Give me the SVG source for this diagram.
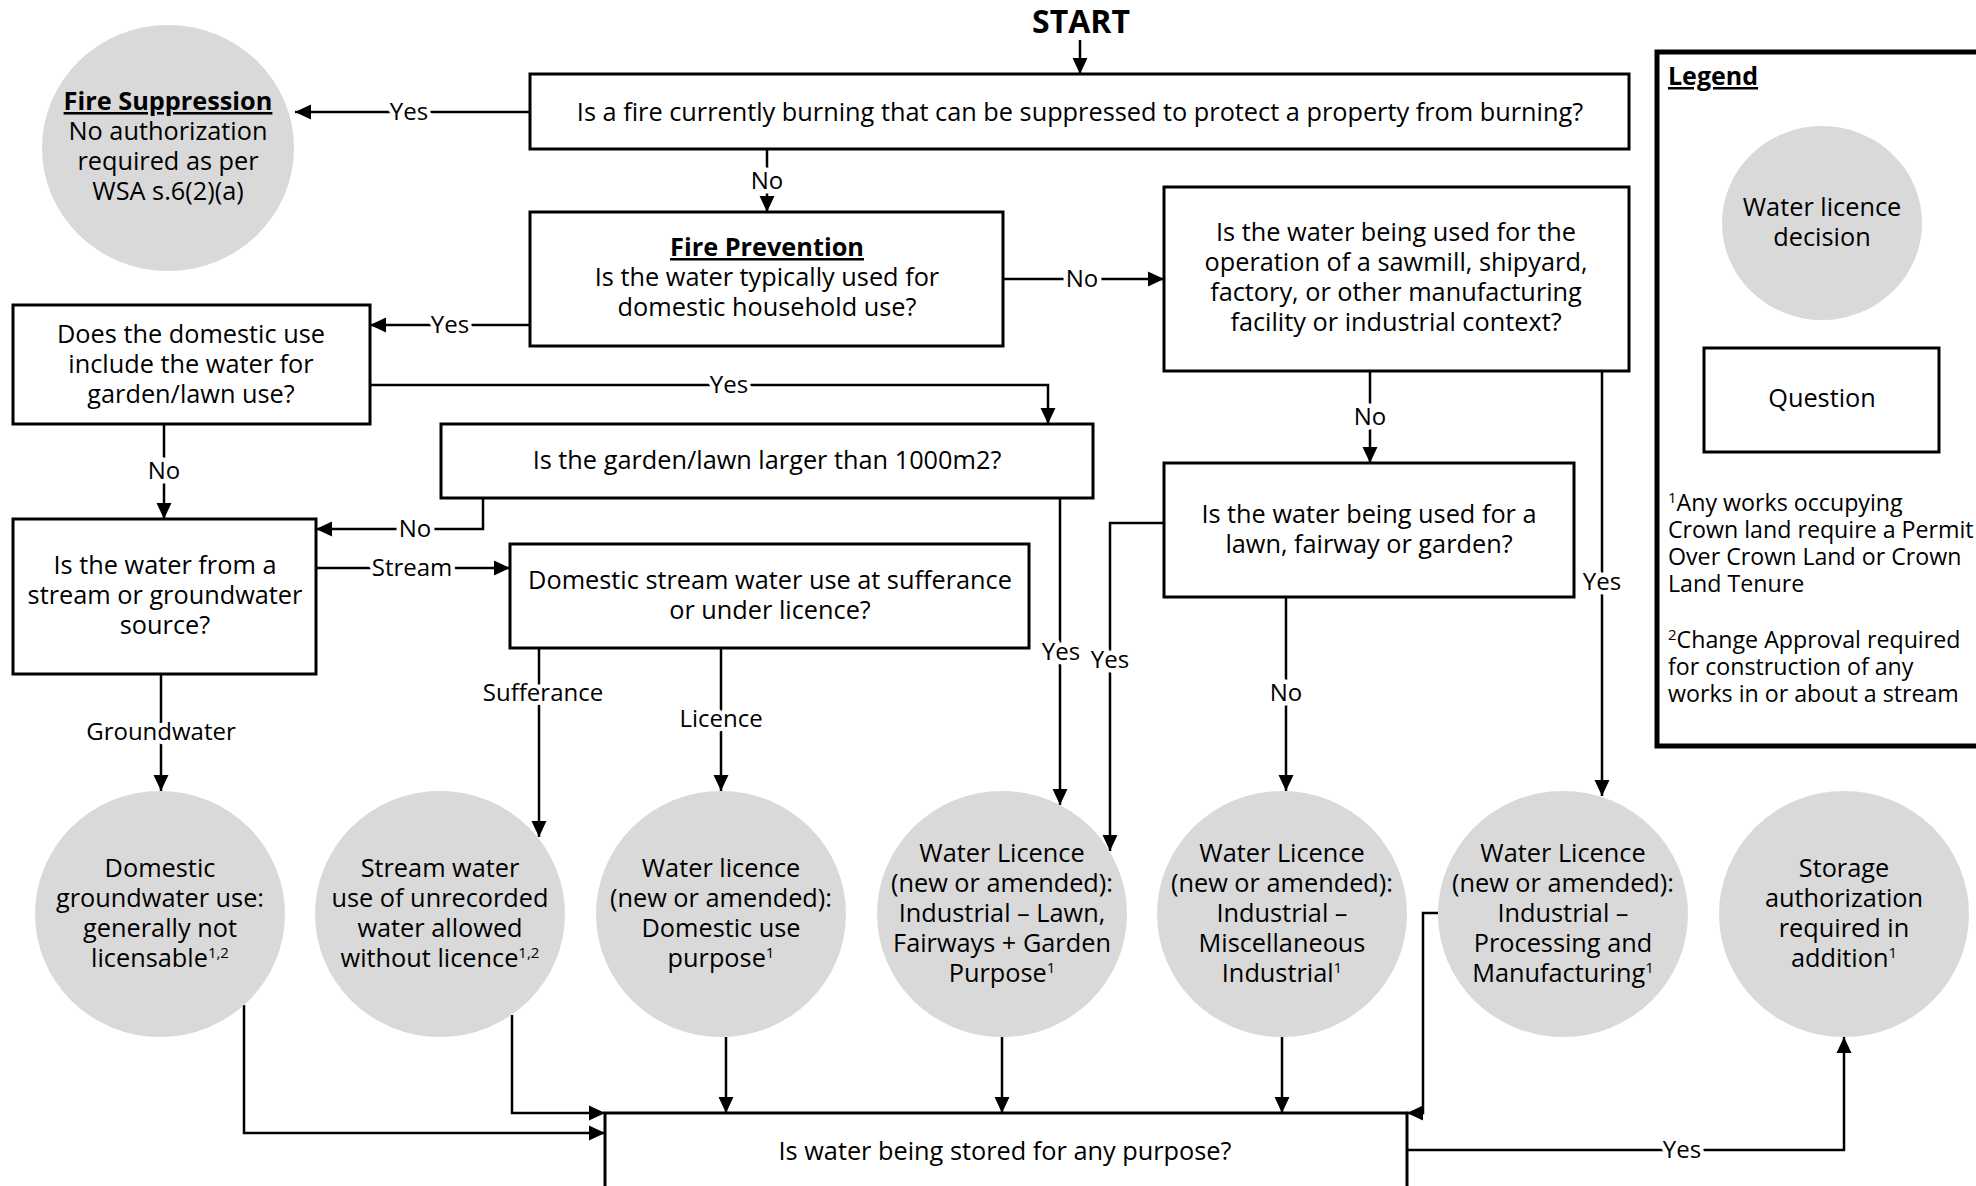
<svg xmlns="http://www.w3.org/2000/svg" width="1976" height="1186" viewBox="0 0 1976 1186">
<defs>
<style>
text{font-family:"Open Sans","Noto Sans","Liberation Sans",sans-serif;fill:#000}
.t{font-size:25.3px;text-anchor:middle}
.b{font-weight:bold}
.u{text-decoration:underline}
.q{fill:#fff;stroke:#000;stroke-width:3}
.d{fill:#d9d9d9;stroke:none}
.c{fill:none;stroke:#000;stroke-width:2.5}
.a{marker-end:url(#ah)}
.lbl{font-size:24px;text-anchor:middle;stroke:#fff;stroke-width:9;paint-order:stroke;stroke-linejoin:round}
.sup{font-size:15px}
.fn{font-size:23.2px}
</style>
<marker id="ah" markerUnits="userSpaceOnUse" markerWidth="16" markerHeight="16" viewBox="0 0 15 14" refX="15" refY="7" orient="auto">
<path d="M0,0 L15,7 L0,14 z" fill="#000"/>
</marker>
</defs>
<rect width="1976" height="1186" fill="#fff"/>

<g id="connectors">
<path class="c a" d="M1080,40 V74"/>
<path class="c a" d="M530,112 H295"/>
<path class="c a" d="M767,149 V212"/>
<path class="c a" d="M1003,279 H1164"/>
<path class="c a" d="M530,325 H370"/>
<path class="c a" d="M370,385 H1048 V424"/>
<path class="c a" d="M164,424 V519"/>
<path class="c a" d="M483,498 V529 H316"/>
<path class="c a" d="M316,568 H510"/>
<path class="c a" d="M161,674 V791"/>
<path class="c a" d="M539,648 V837"/>
<path class="c a" d="M721,648 V791"/>
<path class="c a" d="M1060,498 V805"/>
<path class="c a" d="M1164,523 H1110 V851"/>
<path class="c a" d="M1286,597 V791"/>
<path class="c a" d="M1370,371 V463"/>
<path class="c a" d="M1602,371 V796"/>
<path class="c a" d="M244,1005 V1133 H605"/>
<path class="c a" d="M512,1015 V1113 H605"/>
<path class="c a" d="M726,1037 V1113"/>
<path class="c a" d="M1002,1037 V1113"/>
<path class="c a" d="M1282,1037 V1113"/>
<path class="c a" d="M1438,913 H1423 V1113 H1407"/>
<path class="c a" d="M1407,1150 H1844 V1037"/>
<text class="lbl" x="409" y="120">Yes</text>
<text class="lbl" x="767" y="189">No</text>
<text class="lbl" x="1082" y="287">No</text>
<text class="lbl" x="450" y="333">Yes</text>
<text class="lbl" x="729" y="393">Yes</text>
<text class="lbl" x="164" y="479">No</text>
<text class="lbl" x="415" y="537">No</text>
<text class="lbl" x="412" y="576">Stream</text>
<text class="lbl" x="161" y="740">Groundwater</text>
<text class="lbl" x="543" y="701">Sufferance</text>
<text class="lbl" x="721" y="727">Licence</text>
<text class="lbl" x="1061" y="660">Yes</text>
<text class="lbl" x="1110" y="668">Yes</text>
<text class="lbl" x="1286" y="701">No</text>
<text class="lbl" x="1370" y="425">No</text>
<text class="lbl" x="1602" y="590">Yes</text>
<text class="lbl" x="1682" y="1158">Yes</text>
</g>

<g id="start"><text class="t b" x="1081" y="33" style="font-size:32px">START</text></g>

<g id="q-fire">
<rect class="q" x="530" y="74" width="1099" height="75"/>
<text class="t" x="1080" y="121">Is a fire currently burning that can be suppressed to protect a property from burning?</text>
</g>

<g id="fire-suppression">
<ellipse class="d" cx="168" cy="148" rx="126" ry="123"/>
<text class="t" x="168" y="110"><tspan class="b u">Fire Suppression</tspan><tspan x="168" y="140">No authorization</tspan><tspan x="168" y="170">required as per</tspan><tspan x="168" y="200">WSA s.6(2)(a)</tspan></text>
</g>

<g id="q-fire-prevention">
<rect class="q" x="530" y="212" width="473" height="134"/>
<text class="t" x="767" y="256"><tspan class="b u">Fire Prevention</tspan><tspan x="767" y="286">Is the water typically used for</tspan><tspan x="767" y="316">domestic household use?</tspan></text>
</g>

<g id="q-industrial">
<rect class="q" x="1164" y="187" width="465" height="184"/>
<text class="t" x="1396" y="241">Is the water being used for the<tspan x="1396" y="271">operation of a sawmill, shipyard,</tspan><tspan x="1396" y="301">factory, or other manufacturing</tspan><tspan x="1396" y="331">facility or industrial context?</tspan></text>
</g>

<g id="q-domestic-garden">
<rect class="q" x="13" y="305" width="357" height="119"/>
<text class="t" x="191" y="343">Does the domestic use<tspan x="191" y="373">include the water for</tspan><tspan x="191" y="403">garden/lawn use?</tspan></text>
</g>

<g id="q-garden-size">
<rect class="q" x="441" y="424" width="652" height="74"/>
<text class="t" x="767" y="469">Is the garden/lawn larger than 1000m2?</text>
</g>

<g id="q-source">
<rect class="q" x="13" y="519" width="303" height="155"/>
<text class="t" x="165" y="574">Is the water from a<tspan x="165" y="604">stream or groundwater</tspan><tspan x="165" y="634">source?</tspan></text>
</g>

<g id="q-sufferance">
<rect class="q" x="510" y="544" width="519" height="104"/>
<text class="t" x="770" y="589">Domestic stream water use at sufferance<tspan x="770" y="619">or under licence?</tspan></text>
</g>

<g id="q-lawn">
<rect class="q" x="1164" y="463" width="410" height="134"/>
<text class="t" x="1369" y="523">Is the water being used for a<tspan x="1369" y="553">lawn, fairway or garden?</tspan></text>
</g>

<g id="d-groundwater">
<ellipse class="d" cx="160" cy="914" rx="125" ry="123"/>
<text class="t" x="160" y="877">Domestic<tspan x="160" y="907">groundwater use:</tspan><tspan x="160" y="937">generally not</tspan><tspan x="160" y="967">licensable<tspan class="sup" dy="-9">1,2</tspan></tspan></text>
</g>

<g id="d-unrecorded">
<ellipse class="d" cx="440" cy="914" rx="125" ry="123"/>
<text class="t" x="440" y="877">Stream water<tspan x="440" y="907">use of unrecorded</tspan><tspan x="440" y="937">water allowed</tspan><tspan x="440" y="967">without licence<tspan class="sup" dy="-9">1,2</tspan></tspan></text>
</g>

<g id="d-domestic-licence">
<ellipse class="d" cx="721" cy="914" rx="125" ry="123"/>
<text class="t" x="721" y="877">Water licence<tspan x="721" y="907">(new or amended):</tspan><tspan x="721" y="937">Domestic use</tspan><tspan x="721" y="967">purpose<tspan class="sup" dy="-9">1</tspan></tspan></text>
</g>

<g id="d-lawn-licence">
<ellipse class="d" cx="1002" cy="914" rx="125" ry="123"/>
<text class="t" x="1002" y="862">Water Licence<tspan x="1002" y="892">(new or amended):</tspan><tspan x="1002" y="922">Industrial – Lawn,</tspan><tspan x="1002" y="952">Fairways + Garden</tspan><tspan x="1002" y="982">Purpose<tspan class="sup" dy="-9">1</tspan></tspan></text>
</g>

<g id="d-misc-licence">
<ellipse class="d" cx="1282" cy="914" rx="125" ry="123"/>
<text class="t" x="1282" y="862">Water Licence<tspan x="1282" y="892">(new or amended):</tspan><tspan x="1282" y="922">Industrial –</tspan><tspan x="1282" y="952">Miscellaneous</tspan><tspan x="1282" y="982">Industrial<tspan class="sup" dy="-9">1</tspan></tspan></text>
</g>

<g id="d-processing-licence">
<ellipse class="d" cx="1563" cy="914" rx="125" ry="123"/>
<text class="t" x="1563" y="862">Water Licence<tspan x="1563" y="892">(new or amended):</tspan><tspan x="1563" y="922">Industrial –</tspan><tspan x="1563" y="952">Processing and</tspan><tspan x="1563" y="982">Manufacturing<tspan class="sup" dy="-9">1</tspan></tspan></text>
</g>

<g id="d-storage">
<ellipse class="d" cx="1844" cy="914" rx="125" ry="123"/>
<text class="t" x="1844" y="877">Storage<tspan x="1844" y="907">authorization</tspan><tspan x="1844" y="937">required in</tspan><tspan x="1844" y="967">addition<tspan class="sup" dy="-9">1</tspan></tspan></text>
</g>

<g id="q-storage">
<rect class="q" x="605" y="1113" width="802" height="110"/>
<text class="t" x="1005" y="1160">Is water being stored for any purpose?</text>
</g>

<g id="legend">
<rect x="1657" y="52" width="340" height="694" fill="#fff" stroke="#000" stroke-width="5"/>
<text class="b u" x="1668" y="85" style="font-size:25px">Legend</text>
<ellipse class="d" cx="1822" cy="223" rx="100" ry="97"/>
<text class="t" x="1822" y="216">Water licence<tspan x="1822" y="246">decision</tspan></text>
<rect class="q" x="1704" y="348" width="235" height="104"/>
<text class="t" x="1822" y="407">Question</text>
<text class="fn" x="1668" y="511"><tspan class="sup" dy="-8">1</tspan><tspan dy="8">Any works occupying</tspan></text>
<text class="fn" x="1668" y="538">Crown land require a Permit</text>
<text class="fn" x="1668" y="565">Over Crown Land or Crown</text>
<text class="fn" x="1668" y="592">Land Tenure</text>
<text class="fn" x="1668" y="648"><tspan class="sup" dy="-8">2</tspan><tspan dy="8">Change Approval required</tspan></text>
<text class="fn" x="1668" y="675">for construction of any</text>
<text class="fn" x="1668" y="702">works in or about a stream</text>
</g>
</svg>
